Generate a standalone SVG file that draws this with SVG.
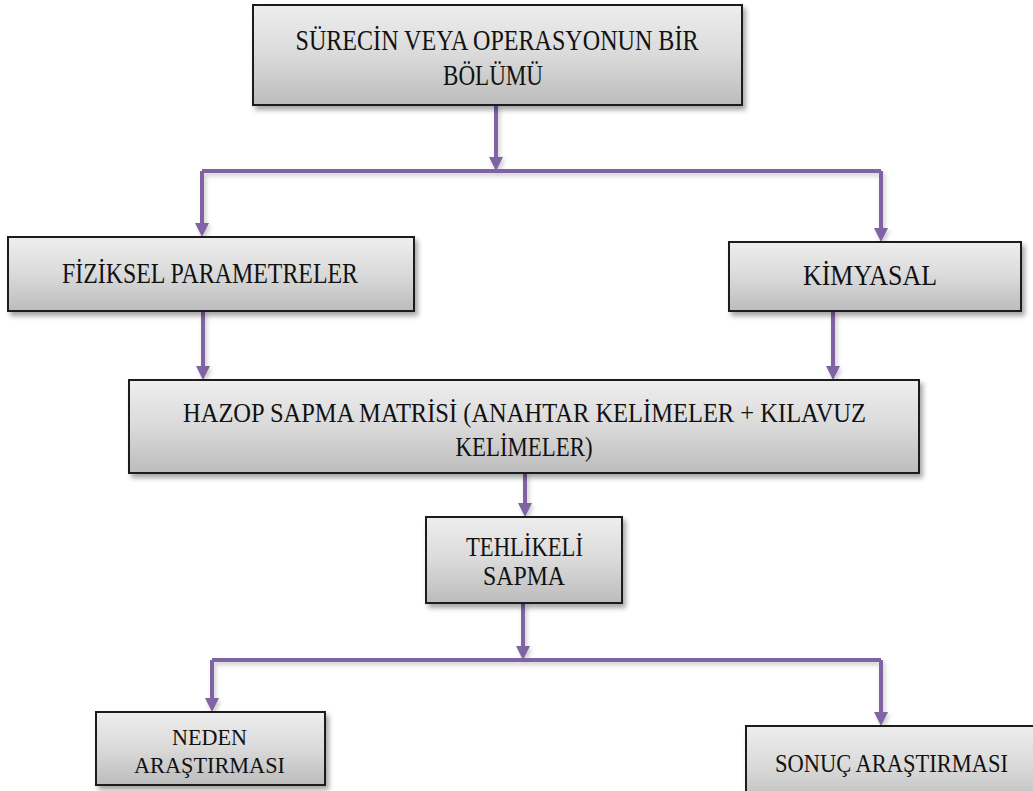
<svg xmlns="http://www.w3.org/2000/svg" width="1033" height="791" viewBox="0 0 1033 791">
  <defs>
    <linearGradient id="boxFill" x1="0" y1="0" x2="0" y2="1">
      <stop offset="0" stop-color="#eeeeee"/>
      <stop offset="0.5" stop-color="#dadada"/>
      <stop offset="1" stop-color="#bcbcbc"/>
    </linearGradient>
    <filter id="boxShadow" x="-5%" y="-10%" width="115%" height="130%">
      <feDropShadow dx="3" dy="4" stdDeviation="2.5" flood-color="#000" flood-opacity="0.35"/>
    </filter>
    <filter id="lineShadow" x="-20%" y="-20%" width="140%" height="140%">
      <feDropShadow dx="2" dy="3" stdDeviation="2" flood-color="#000" flood-opacity="0.2"/>
    </filter>
    <marker id="arrow" markerUnits="userSpaceOnUse" markerWidth="14" markerHeight="14" viewBox="0 0 14 14" refX="6" refY="7" orient="auto">
      <path d="M0,0 L14,7 L0,14 z" fill="#8064a2"/>
    </marker>
  </defs>
  <style>
    .box { fill: url(#boxFill); stroke: #1a1a1a; stroke-width: 2; filter: url(#boxShadow); }
    .lbl { fill: #111; text-anchor: middle; }
    .conn { fill: none; stroke: #8064a2; stroke-width: 4; marker-end: url(#arrow); }
    .bus { fill: none; stroke: #8064a2; stroke-width: 4; }
  </style>

  <g id="connectors" filter="url(#lineShadow)">
    <!-- top box down to splitter -->
    <path class="conn" d="M496,105 L496,163"/>
    <!-- splitter to the two parameter groups -->
    <path class="bus" d="M202,171 L881,171"/>
    <path class="conn" d="M202,171 L202,229"/>
    <path class="conn" d="M881,171 L881,234"/>
    <!-- parameter groups into the matrix -->
    <path class="conn" d="M203,311 L203,372"/>
    <path class="conn" d="M833,311 L833,372"/>
    <!-- matrix to hazardous deviation -->
    <path class="conn" d="M525,473 L525,509"/>
    <!-- deviation down to second splitter -->
    <path class="conn" d="M523,603 L523,652"/>
    <path class="bus" d="M212,660 L881,660"/>
    <path class="conn" d="M212,660 L212,704"/>
    <path class="conn" d="M881,660 L881,718"/>
  </g>

  <g font-family="Liberation Serif, Times New Roman, serif">
    <g id="node-surec">
      <rect class="box" x="253" y="5" width="489" height="100"/>
      <text class="lbl" x="497" y="50" font-size="29" textLength="403" lengthAdjust="spacingAndGlyphs">SÜRECİN VEYA  OPERASYONUN BİR</text>
      <text class="lbl" x="493" y="85" font-size="29" textLength="100" lengthAdjust="spacingAndGlyphs">BÖLÜMÜ</text>
    </g>

    <g id="node-fiziksel">
      <rect class="box" x="8" y="237" width="406" height="74"/>
      <text class="lbl" x="210" y="283" font-size="29" textLength="296" lengthAdjust="spacingAndGlyphs">FİZİKSEL  PARAMETRELER</text>
    </g>

    <g id="node-kimyasal">
      <rect class="box" x="729" y="242" width="292" height="69"/>
      <text class="lbl" x="870" y="285" font-size="29" textLength="134" lengthAdjust="spacingAndGlyphs">KİMYASAL</text>
    </g>

    <g id="node-hazop">
      <rect class="box" x="129" y="380" width="790" height="93"/>
      <text class="lbl" x="524.5" y="422" font-size="28" textLength="683" lengthAdjust="spacingAndGlyphs">HAZOP SAPMA MATRİSİ (ANAHTAR  KELİMELER  + KILAVUZ</text>
      <text class="lbl" x="524" y="456" font-size="28" textLength="137" lengthAdjust="spacingAndGlyphs">KELİMELER)</text>
    </g>

    <g id="node-tehlikeli">
      <rect class="box" x="426" y="517" width="196" height="86"/>
      <text class="lbl" x="524.5" y="556" font-size="27" textLength="117" lengthAdjust="spacingAndGlyphs">TEHLİKELİ</text>
      <text class="lbl" x="524" y="585" font-size="27" textLength="82" lengthAdjust="spacingAndGlyphs">SAPMA</text>
    </g>

    <g id="node-neden">
      <rect class="box" x="96" y="712" width="229" height="73"/>
      <text class="lbl" x="209.5" y="745" font-size="24" textLength="75" lengthAdjust="spacingAndGlyphs">NEDEN</text>
      <text class="lbl" x="209.5" y="773" font-size="24" textLength="151" lengthAdjust="spacingAndGlyphs">ARAŞTIRMASI</text>
    </g>

    <g id="node-sonuc">
      <rect class="box" x="746" y="726" width="294" height="80"/>
      <text class="lbl" x="891.5" y="772" font-size="26" textLength="233" lengthAdjust="spacingAndGlyphs">SONUÇ ARAŞTIRMASI</text>
    </g>
  </g>
</svg>
